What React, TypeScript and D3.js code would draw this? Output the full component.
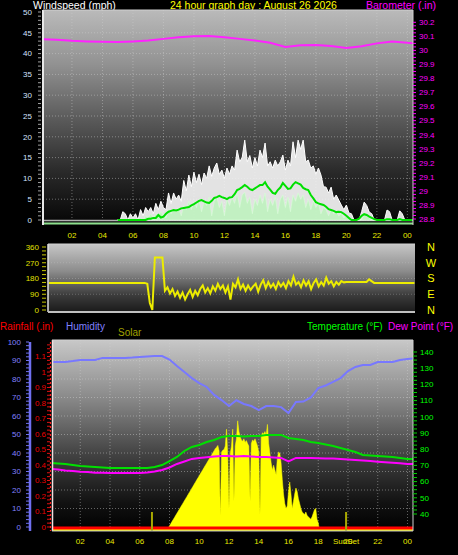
import React from 'react';
import * as d3 from 'd3';

const W = 458;
const H = 555;
const T0 = 0.1;
const T1 = 24.37;

const HOUR_TICKS = [2, 4, 6, 8, 10, 12, 14, 16, 18, 20, 22, 24];
const HOUR_LABELS = ['02', '04', '06', '08', '10', '12', '14', '16', '18', '20', '22', '00'];

const WIND_TICKS = [0, 5, 10, 15, 20, 25, 30, 35, 40, 45, 50];
const BARO_TICKS = [28.8, 28.9, 29, 29.1, 29.2, 29.3, 29.4, 29.5, 29.6, 29.7, 29.8, 29.9, 30, 30.1, 30.2];
const DIR_TICKS = [0, 90, 180, 270, 360];
const DIR_LETTERS = ['N', 'E', 'S', 'W', 'N'];
const HUM_TICKS = [0, 10, 20, 30, 40, 50, 60, 70, 80, 90, 100];
const RAIN_TICKS = [0, 0.1, 0.2, 0.3, 0.4, 0.5, 0.6, 0.7, 0.8, 0.9, 1, 1.1];
const TEMP_TICKS = [40, 50, 60, 70, 80, 90, 100, 110, 120, 130, 140];

// wind samples: every 10 minutes from 05:00
const WIND_START_H = 5;
const WIND_STEP_H = 1 / 6;
const GUST_MPH = [
  0, 0, 2, 1.5, 0, 1.5, 0.5, 1.5, 0, 2.5,
  1, 3, 2, 3, 1.5, 4, 2.5, 4.5, 3, 2.5,
  6.5, 4, 6.5, 5, 6, 4.5, 9.5, 7, 10.8, 8,
  11.5, 9, 11, 8.5, 11.3, 10, 13, 10.5, 12.5, 13.7,
  11, 12, 10, 12.5, 11, 13, 12, 16.8, 14, 15,
  19.2, 14, 15.5, 12.5, 15, 13, 16.8, 15, 18.5, 13,
  14, 12.5, 14.4, 13, 14, 15.6, 12, 14.4, 13, 18.8,
  15, 19.2, 17, 19.2, 14, 14.4, 12.5, 13, 11, 12.5,
  10.8, 8, 7.9, 6.5, 7.9, 5, 6, 4.8, 3.6, 2.5,
  3.6, 1.7, 1.5, 0, 0, 0, 2, 4.3, 3.5, 1.9,
  1.5, 0, 0, 0, 0, 0, 2.4, 2, 0, 0,
  0, 2.2, 1.5, 0, 0, 0, 0,
];
const WIND_MPH = [
  0, 0, 0, 0, 0, 0, 0, 0, 0, 0.5,
  0, 1, 0.5, 1.5, 0.5, 1.5, 1, 2, 1, 0.5,
  2.5, 1.5, 2.5, 2, 3, 1, 3.5, 2.5, 4.5, 2.5,
  4.5, 3, 5, 2, 4.5, 3.5, 5.5, 1, 4.5, 5.5,
  3, 4.5, 1, 5, 3.5, 5.5, 4, 6.5, 3, 6,
  6.7, 4, 5.5, 1.5, 5, 3.5, 6, 4, 6.5, 2,
  5, 3.5, 5.5, 1.5, 5, 6, 3, 5.5, 2, 6,
  4.5, 6.5, 5, 6, 3, 5, 2.5, 4.5, 3, 4,
  1.5, 3, 2.5, 1, 2.5, 1.5, 2, 1, 1.5, 0.5,
  1, 0.5, 0, 0, 0, 0, 0, 1.5, 1, 0.5,
  0, 0, 0, 0, 0, 0, 0.5, 0, 0, 0,
  0, 0.5, 0, 0, 0, 0, 0,
];
const AVG_MPH = [
  0, 0, 0, 0, 0, 0, 0, 0, 0, 0,
  0, 0, 0.3, 0.3, 0.5, 0.5, 1.2, 0.6, 0.8, 1.5,
  2, 2.2, 2.4, 2.3, 2.5, 2.8, 2.9, 3, 3.1, 3.5,
  3.8, 4.2, 4.6, 4.8, 4.5, 4.2, 4.1, 4.6, 5.3, 5.5,
  5.8, 5.5, 5.3, 5, 5.4, 5.5, 6.2, 7.2, 7.5, 7.9,
  8.4, 8, 7.4, 7.2, 7.6, 8, 8.4, 8.4, 9.1, 8,
  7.3, 6.5, 6.3, 7.2, 7.8, 8.9, 8.2, 7.5, 7.6, 8.5,
  9.1, 8.8, 8.5, 7.7, 7.4, 7.2, 6, 5.2, 4.3, 4,
  3.8, 3.6, 3.2, 2.6, 2.4, 2.2, 1.9, 2, 1.9, 1.5,
  1, 0.5, 0, 0, 0, 0.3, 1, 1.4, 1.2, 0.8,
  0.5, 0.2, 0, 0, 0, 0, 0.2, 0.2, 0, 0,
  0, 0.2, 0, 0, 0, 0, 0,
];

// barometer: hourly from 00:00
const BARO_STEP_H = 1;
const BARO_INHG = [
  30.079, 30.075, 30.068, 30.064, 30.061, 30.059, 30.064, 30.071, 30.082, 30.093,
  30.1, 30.102, 30.093, 30.082, 30.071, 30.054, 30.025, 30.036, 30.039, 30.032,
  30.018, 30.029, 30.05, 30.064, 30.054, 30.048,
];

// wind direction: every 10 minutes from 00:10
const DIR_START_H = 1 / 6;
const DIR_STEP_H = 1 / 6;
const DIR_DEG = [
  155, 155, 155, 155, 155, 155, 155, 155, 155, 155,
  155, 155, 155, 155, 155, 155, 155, 155, 155, 155,
  155, 155, 155, 155, 155, 155, 155, 155, 155, 155,
  155, 155, 155, 155, 155, 155, 155, 155, 155, 150,
  40, 0, 300, 300, 300, 300,
  110, 130, 95, 120, 80, 105, 70, 100, 60, 90,
  115, 75, 110, 85, 120, 140, 100, 125, 95, 135,
  110, 150, 120, 140, 100, 135, 60, 150, 130, 175,
  120, 145, 110, 140, 115, 135, 150, 105, 145, 170,
  125, 160, 130, 150, 120, 160, 135, 155, 125, 165,
  140, 190, 145, 160, 130, 170, 140, 165, 120, 155,
  175, 135, 160, 140, 185, 150, 165, 135, 160, 145,
  165, 158,
  160, 160, 160, 160, 160, 160, 160, 160, 160, 175, 165,
  155, 155, 155, 155, 155, 155, 155, 155, 155, 155,
  155, 155, 155, 155, 155, 155, 155,
];

// climate: every 30 minutes from 00:00
const CLIMATE_STEP_H = 0.5;
const HUMIDITY = [
  89.2, 89.2, 89.2, 89.7, 90.3, 90.3, 90.3, 91.4, 91.4, 91.4,
  91.4, 91.6, 91.9, 92.2, 92.4, 92.4, 90.5, 87, 83.8, 80.5,
  77.8, 75.7, 71.4, 68.6, 65.4, 68.5, 66.5, 65.4, 63.2, 65.4,
  65.4, 64.8, 61.6, 67.6, 67.8, 70, 75.1, 76.5, 78.4, 80.5,
  84.3, 86.5, 87.6, 87.6, 89.2, 89.2, 89.2, 90.3, 90.8, 91.1,
];
const TEMP_F = [
  71.5, 71.2, 70.9, 70.2, 69.6, 69.3, 69, 68.7, 68.4, 68.4,
  68.4, 68.4, 68.4, 68.4, 69, 70.2, 72.7, 75.2, 78.9, 81.4,
  82.6, 84.4, 85.7, 87.5, 88.1, 88.1, 87.8, 88.1, 88.1, 88.8,
  88.8, 88.8, 86.9, 86.3, 85.7, 84.4, 83.8, 82.9, 82, 80.7,
  79.5, 78.3, 76.4, 76.1, 75.8, 75.5, 75.2, 74.6, 74, 74,
];
const DEW_F = [
  67.8, 67.5, 66.9, 66.5, 66.1, 65.9, 65.5, 65.5, 65.3, 65.3,
  65.3, 65.3, 65.3, 65.6, 66.2, 67.2, 68.7, 70.9, 72.4, 74,
  74.6, 75, 75.5, 75.8, 75.8, 75.5, 75.8, 75.5, 75.2, 75.2,
  74.9, 74.6, 72.4, 74.6, 74.6, 74.6, 74.4, 74.3, 74.3, 74,
  73.6, 73.3, 73, 72.7, 72.3, 72, 71.7, 71.3, 70.9, 70.9,
];

// solar: every 5 minutes from 07:50
const SOLAR_START_H = 7 + 50 / 60;
const SOLAR_STEP_H = 5 / 60;
const SOLAR = [
  0, 18, 35, 52, 70, 87, 104, 122, 139, 157,
  174, 191, 209, 226, 244, 261, 278, 296, 313, 330,
  348, 365, 383, 400, 418, 435, 452, 470, 487, 505,
  522, 540, 557, 574, 592, 609, 626, 644, 661, 680,
  690, 705, 660, 120, 650, 665, 670, 700, 840, 620,
  180, 640, 700, 840, 240, 700, 760, 910, 820, 780,
  750, 740, 760, 730, 745, 720, 700, 240, 720, 750,
  740, 760, 730, 700, 650, 130, 780, 810, 800, 820,
  790, 880, 720, 640, 560, 500, 540, 500, 460, 600,
  650, 640, 560, 420, 300, 220, 180, 200, 320, 400,
  300, 180, 240, 300, 350, 320, 260, 220, 180, 150,
  140, 130, 150, 120, 110, 100, 90, 110, 140, 170,
  180, 90, 60, 0,
];

const RAIN_TIMES = [0, 24.5];
const RAIN_IN = [0, 0];

const SUNRISE_H = 6.82;
const SUNSET_H = 19.87;

const FONT = 'Liberation Sans, Arial, sans-serif';

const fmt = (v: number) => String(Math.round(v * 10) / 10);

export default function App() {
  const xTop = d3.scaleLinear().domain([T0, T1]).range([43, 413]);
  const xMid = d3.scaleLinear().domain([T0, T1]).range([48, 415]);
  const xBot = d3.scaleLinear().domain([T0, T1]).range([52, 413]);

  const yWind = d3.scaleLinear().domain([0, 50]).range([220, 12]);
  const yBaro = d3.scaleLinear().domain([28.8, 30.2]).range([219, 22.3]);
  const yDir = d3.scaleLinear().domain([0, 360]).range([310, 247]);
  const yHum = d3.scaleLinear().domain([0, 100]).range([527, 342]);
  const yRain = d3.scaleLinear().domain([0, 1.2]).range([527, 341]);
  const yTemp = d3.scaleLinear().domain([30, 140]).range([530.2, 352]);
  const ySolar = d3.scaleLinear().domain([0, 1000]).range([530, 410]);

  const wt = (i: number) => WIND_START_H + i * WIND_STEP_H;
  const gustArea = d3.area<number>().x((_, i) => xTop(wt(i))).y0(yWind(0)).y1((d) => yWind(d))(GUST_MPH) || '';
  const windArea = d3.area<number>().x((_, i) => xTop(wt(i))).y0(yWind(0)).y1((d) => yWind(d))(WIND_MPH) || '';
  const avgLine = d3.line<number>().x((_, i) => xTop(wt(i))).y((d) => yWind(d))(AVG_MPH) || '';
  const baroLine = d3.line<number>().x((_, i) => xTop(i * BARO_STEP_H)).y((d) => yBaro(d))(BARO_INHG) || '';
  const dirLine = d3.line<number>().x((_, i) => xMid(DIR_START_H + i * DIR_STEP_H)).y((d) => yDir(d))(DIR_DEG) || '';
  const humLine = d3.line<number>().x((_, i) => xBot(i * CLIMATE_STEP_H)).y((d) => yHum(d))(HUMIDITY) || '';
  const tempLine = d3.line<number>().x((_, i) => xBot(i * CLIMATE_STEP_H)).y((d) => yTemp(d))(TEMP_F) || '';
  const dewLine = d3.line<number>().x((_, i) => xBot(i * CLIMATE_STEP_H)).y((d) => yTemp(d))(DEW_F) || '';
  const solarArea = d3.area<number>().x((_, i) => xBot(SOLAR_START_H + i * SOLAR_STEP_H)).y0(ySolar(0)).y1((d) => ySolar(d))(SOLAR) || '';
  const rainLine = d3.line<number>().x((_, i) => xBot(RAIN_TIMES[i])).y((d) => yRain(d) + 1)(RAIN_IN) || '';

  const top = { x0: 43, x1: 413, y0: 10, y1: 225 };
  const mid = { x0: 48, x1: 415, y0: 244, y1: 312 };
  const bot = { x0: 52, x1: 413, y0: 340, y1: 531 };

  const grid = { stroke: '#d0d0d0', strokeOpacity: 0.45, strokeDasharray: '1,2', strokeWidth: 1 };

  return (
    <svg width={W} height={H} style={{ position: 'absolute', left: 0, top: 0, display: 'block' }} fontFamily={FONT}>
      <defs>
        <linearGradient id="gTop" x1="0" y1="0" x2="0" y2="1">
          <stop offset="0" stopColor="#bababa" />
          <stop offset="0.25" stopColor="#929292" />
          <stop offset="0.5" stopColor="#5c5c5c" />
          <stop offset="0.75" stopColor="#2a2a2a" />
          <stop offset="1" stopColor="#050505" />
        </linearGradient>
        <linearGradient id="gMid" x1="0" y1="0" x2="0" y2="1">
          <stop offset="0" stopColor="#c6c6c6" />
          <stop offset="0.4" stopColor="#8c8c8c" />
          <stop offset="0.75" stopColor="#3c3c3c" />
          <stop offset="1" stopColor="#1a1a1a" />
        </linearGradient>
        <linearGradient id="gBot" x1="0" y1="0" x2="0" y2="1">
          <stop offset="0" stopColor="#c8c8c8" />
          <stop offset="0.3" stopColor="#8a8a8a" />
          <stop offset="0.6" stopColor="#424242" />
          <stop offset="0.85" stopColor="#121212" />
          <stop offset="1" stopColor="#000000" />
        </linearGradient>
        <clipPath id="cTop"><rect x={top.x0} y={top.y0} width={top.x1 - top.x0} height={top.y1 - top.y0} /></clipPath>
        <clipPath id="cMid"><rect x={mid.x0} y={mid.y0} width={mid.x1 - mid.x0} height={mid.y1 - mid.y0} /></clipPath>
        <clipPath id="cBot"><rect x={bot.x0} y={bot.y0} width={bot.x1 - bot.x0} height={bot.y1 - bot.y0} /></clipPath>
      </defs>
      <rect x={0} y={0} width={W} height={H} fill="#000" />

      {/* ---------- TOP PANEL ---------- */}
      <text x={33} y={9} fill="#ffffff" fontSize={10.5}>Windspeed (mph)</text>
      <text x={170} y={9} fill="#ffff00" fontSize={10.5}>24 hour graph day : August 26 2026</text>
      <text x={366} y={9} fill="#ff00ff" fontSize={10.5}>Barometer (.in)</text>

      <rect x={top.x0} y={top.y0} width={top.x1 - top.x0} height={top.y1 - top.y0} fill="url(#gTop)" />
      <g clipPath="url(#cTop)">
        {WIND_TICKS.slice(1, -1).map((v) => (
          <line key={'tg' + v} x1={top.x0} x2={top.x1} y1={yWind(v)} y2={yWind(v)} {...grid} />
        ))}
        {HOUR_TICKS.map((h) => (
          <line key={'tv' + h} x1={xTop(h)} x2={xTop(h)} y1={top.y0} y2={top.y1} {...grid} />
        ))}
        <line x1={top.x0} x2={top.x1} y1={yWind(0) + 0.5} y2={yWind(0) + 0.5} stroke="#b0b0b0" strokeWidth={1.5} />
        <line x1={top.x0} x2={top.x1} y1={yWind(0) + 3.5} y2={yWind(0) + 3.5} stroke="#8ee08e" strokeWidth={2} />
        <path d={gustArea} fill="#f4f4f4" fillOpacity={0.92} stroke="#ffffff" strokeWidth={1} />
        <path d={windArea} fill="#bff2bf" fillOpacity={0.9} stroke="#d8ffd8" strokeWidth={0.6} />
        <path d={avgLine} fill="none" stroke="#00e000" strokeWidth={2} />
        <path d={baroLine} fill="none" stroke="#ff22ff" strokeWidth={2} />
      </g>
      <line x1={top.x0} x2={top.x0} y1={top.y0} y2={top.y1} stroke="#e8e8e8" strokeWidth={2} />
      <line x1={top.x0} x2={top.x1} y1={top.y0} y2={top.y0} stroke="#d0d0d0" strokeWidth={1} />
      <line x1={top.x1} x2={top.x1} y1={top.y0} y2={top.y1} stroke="#d0d0d0" strokeWidth={1} />

      {d3.range(0, 50.01, 1).map((v) => (
        <line key={'wm' + v} x1={38} x2={41} y1={yWind(v)} y2={yWind(v)} stroke="#a0a0a0" strokeWidth={1} />
      ))}
      {WIND_TICKS.map((v) => (
        <text key={'wl' + v} x={32} y={yWind(v)} dy="0.35em" textAnchor="end" fill="#d4e2ff" fontSize={8}>{v}</text>
      ))}
      {d3.range(0, 57).map((k) => (
        <line key={'bm' + k} x1={413} x2={416} y1={yBaro(28.8 + k * 0.025)} y2={yBaro(28.8 + k * 0.025)} stroke="#ff00ff" strokeWidth={1} />
      ))}
      {BARO_TICKS.map((v) => (
        <text key={'bl' + v} x={419} y={yBaro(v)} dy="0.35em" fill="#ff00ff" fontSize={8}>{fmt(v)}</text>
      ))}
      {HOUR_TICKS.map((h, i) => (
        <text key={'tx' + h} x={xTop(h)} y={238} textAnchor="middle" fill="#e8e800" fontSize={8}>{HOUR_LABELS[i]}</text>
      ))}

      {/* ---------- MIDDLE PANEL ---------- */}
      <rect x={mid.x0} y={mid.y0} width={mid.x1 - mid.x0} height={mid.y1 - mid.y0} fill="url(#gMid)" />
      <g clipPath="url(#cMid)">
        {[90, 180, 270].map((v) => (
          <line key={'mg' + v} x1={mid.x0} x2={mid.x1} y1={yDir(v)} y2={yDir(v)} {...grid} strokeOpacity={0.3} />
        ))}
        <path d={dirLine} fill="none" stroke="#ecec00" strokeWidth={2} />
      </g>
      <line x1={mid.x0} x2={mid.x0} y1={mid.y0} y2={mid.y1} stroke="#e0e0e0" strokeWidth={1.5} />
      <line x1={mid.x0} x2={mid.x1} y1={mid.y1} y2={mid.y1} stroke="#c0c0c0" strokeWidth={2} />
      <line x1={mid.x0} x2={mid.x1} y1={mid.y0} y2={mid.y0} stroke="#d0d0d0" strokeWidth={1} />
      {d3.range(0, 360.1, 22.5).map((v) => (
        <line key={'dm' + v} x1={42} x2={46} y1={yDir(v)} y2={yDir(v)} stroke="#c8c800" strokeWidth={1} />
      ))}
      {DIR_TICKS.map((v) => (
        <text key={'dl' + v} x={39} y={yDir(v)} dy="0.35em" textAnchor="end" fill="#e0e000" fontSize={8}>{v}</text>
      ))}
      {DIR_TICKS.map((v, i) => (
        <text key={'dc' + v} x={431} y={yDir(v) + 3.8} textAnchor="middle" fill="#ffff00" fontSize={11}>{DIR_LETTERS[i]}</text>
      ))}

      {/* ---------- BOTTOM PANEL ---------- */}
      <text x={0} y={330} fill="#ff0000" fontSize={10}>Rainfall (.in)</text>
      <text x={66} y={330} fill="#8080ff" fontSize={10}>Humidity</text>
      <text x={118} y={336} fill="#a0a000" fontSize={10}>Solar</text>
      <text x={307} y={330} fill="#00ff00" fontSize={10}>Temperature (°F)</text>
      <text x={388} y={330} fill="#ff00ff" fontSize={10}>Dew Point (°F)</text>

      <rect x={bot.x0} y={bot.y0} width={bot.x1 - bot.x0} height={bot.y1 - bot.y0} fill="url(#gBot)" />
      <g clipPath="url(#cBot)">
        {HUM_TICKS.slice(1, -1).map((v) => (
          <line key={'hg' + v} x1={bot.x0} x2={bot.x1} y1={yHum(v)} y2={yHum(v)} {...grid} />
        ))}
        {HOUR_TICKS.map((h) => (
          <line key={'bv' + h} x1={xBot(h)} x2={xBot(h)} y1={bot.y0} y2={bot.y1} {...grid} />
        ))}
        <path d={solarArea} fill="#ffff00" stroke="#ffff00" strokeWidth={0.5} />
        <line x1={bot.x0} x2={bot.x1} y1={ySolar(0)} y2={ySolar(0)} stroke="#ffff00" strokeWidth={2} />
        <path d={rainLine} fill="none" stroke="#ff0000" strokeWidth={3} />
        {[SUNRISE_H, SUNSET_H].map((h) => (
          <line key={'sun' + h} x1={xBot(h)} x2={xBot(h)} y1={512} y2={531} stroke="#a8a800" strokeWidth={2} />
        ))}
        <path d={tempLine} fill="none" stroke="#00e000" strokeWidth={2} />
        <path d={dewLine} fill="none" stroke="#ff00ff" strokeWidth={2} />
        <path d={humLine} fill="none" stroke="#7878ff" strokeWidth={2} />
      </g>
      <line x1={bot.x0 + 0.5} x2={bot.x0 + 0.5} y1={bot.y0} y2={bot.y1} stroke="#f0e0e0" strokeWidth={1.5} />
      <line x1={bot.x0} x2={bot.x1} y1={bot.y0} y2={bot.y0} stroke="#d0d0d0" strokeWidth={1} />
      <line x1={bot.x1} x2={bot.x1} y1={bot.y0} y2={bot.y1} stroke="#d0d0d0" strokeWidth={1} />
      <line x1={bot.x0} x2={bot.x1} y1={bot.y1} y2={bot.y1} stroke="#c0c0c0" strokeWidth={1} />

      {/* humidity axis */}
      <line x1={30} x2={30} y1={342} y2={531} stroke="#7070f0" strokeWidth={2.5} />
      {d3.range(0, 100.1, 2).map((v) => (
        <line key={'hm' + v} x1={26} x2={29} y1={yHum(v)} y2={yHum(v)} stroke="#7070f0" strokeWidth={1} />
      ))}
      {HUM_TICKS.map((v) => (
        <text key={'hl' + v} x={21} y={yHum(v)} dy="0.35em" textAnchor="end" fill="#8080ff" fontSize={8}>{v}</text>
      ))}
      {/* rain axis */}
      <line x1={50.5} x2={50.5} y1={342} y2={531} stroke="#ff2020" strokeWidth={1.2} strokeDasharray="2,2" />
      {d3.range(0, 48).map((k) => (
        <line key={'rm' + k} x1={47} x2={50} y1={yRain(k * 0.025)} y2={yRain(k * 0.025)} stroke="#e01010" strokeWidth={1} />
      ))}
      {RAIN_TICKS.map((v) => (
        <text key={'rl' + v} x={46} y={yRain(v)} dy="0.35em" textAnchor="end" fill="#ee0000" fontSize={8}>{fmt(v)}</text>
      ))}
      {/* temperature axis */}
      {d3.range(40, 142, 2.5).map((v) => (
        <line key={'tm' + v} x1={413} x2={417} y1={yTemp(v)} y2={yTemp(v)} stroke="#00d000" strokeWidth={1} />
      ))}
      {TEMP_TICKS.map((v) => (
        <text key={'tl' + v} x={420} y={yTemp(v)} dy="0.35em" fill="#00ff00" fontSize={8}>{v}</text>
      ))}
      {HOUR_TICKS.map((h, i) => (
        <text key={'bx' + h} x={xBot(h)} y={544} textAnchor="middle" fill="#e8e800" fontSize={8}>{HOUR_LABELS[i]}</text>
      ))}
      <text x={xBot(SUNSET_H)} y={544} textAnchor="middle" fill="#e8e800" fontSize={8}>SunSet</text>
    </svg>
  );
}
